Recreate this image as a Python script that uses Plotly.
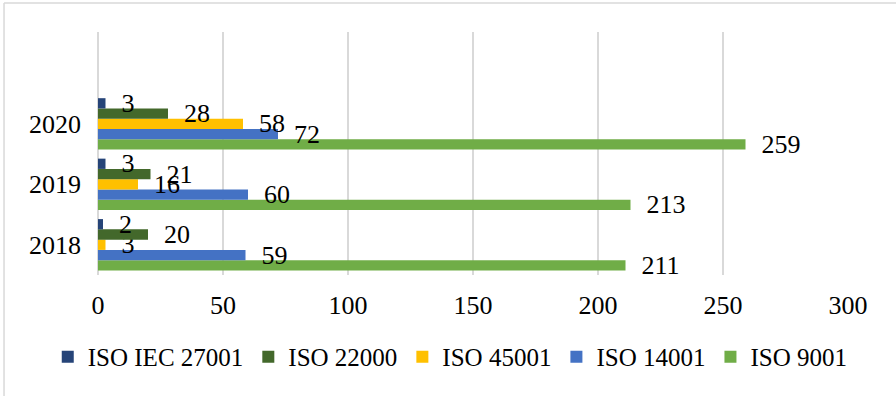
import plotly.graph_objects as go

years = ["2018", "2019", "2020"]
series_names = ["ISO 9001", "ISO 14001", "ISO 45001", "ISO 22000", "ISO IEC 27001"]
iso_9001 = [211, 213, 259]
iso_14001 = [59, 60, 72]
iso_45001 = [3, 16, 58]
iso_22000 = [20, 21, 28]
iso_iec_27001 = [2, 3, 3]
x_ticks = [0, 50, 100, 150, 200, 250, 300]

values = [iso_9001, iso_14001, iso_45001, iso_22000, iso_iec_27001]
colors = ["#70AD47", "#4472C4", "#FFC000", "#43682B", "#264478"]

FONT = "serif"
pad = "\u00a0\u00a0"

fig = go.Figure()
for name, vals, col in zip(series_names, values, colors):
    fig.add_trace(go.Bar(
        y=years, x=vals, name=name, orientation="h",
        marker=dict(color=col, line=dict(width=0)),
        text=[pad + str(v) for v in vals],
        textposition="outside",
        textfont=dict(family=FONT, size=26, color="#000000"),
        constraintext="none",
        cliponaxis=False,
    ))

fig.update_layout(
    width=896, height=396,
    margin=dict(l=98, r=48, t=32, b=121, autoexpand=False),
    paper_bgcolor="white", plot_bgcolor="white",
    barmode="group", bargap=0.15, bargroupgap=0,
    font=dict(family=FONT, size=26, color="#000000"),
    showlegend=True,
    legend=dict(
        orientation="h", traceorder="reversed",
        x=-0.067, xanchor="left", y=-0.337, yanchor="middle",
        font=dict(family=FONT, size=25, color="#000000"),
        itemwidth=30, itemsizing="constant",
        bgcolor="rgba(0,0,0,0)",
    ),
    xaxis=dict(
        range=[0, 300], tickvals=x_ticks, showgrid=True,
        gridcolor="#D9D9D9", gridwidth=1.5,
        zeroline=True, zerolinecolor="#D9D9D9", zerolinewidth=1.5,
        showline=False, ticks="", ticklabelstandoff=12,
        tickfont=dict(family=FONT, size=26, color="#000000"),
    ),
    yaxis=dict(
        type="category", categoryorder="array", categoryarray=years,
        range=[-0.5, 3.52], showgrid=False, zeroline=False, showline=False,
        ticks="", ticklabelstandoff=16,
        tickfont=dict(family=FONT, size=26, color="#000000"),
    ),
    shapes=[
        dict(type="line", xref="paper", yref="paper", x0=-0.1253, x1=1.07,
             y0=1.119, y1=1.119, line=dict(color="#D9D9D9", width=1.5)),
        dict(type="line", xref="paper", yref="paper", x0=-0.1253, x1=-0.1253,
             y0=1.119, y1=-0.52, line=dict(color="#D9D9D9", width=1.5)),
    ],
)

fig.write_html("out.html")
